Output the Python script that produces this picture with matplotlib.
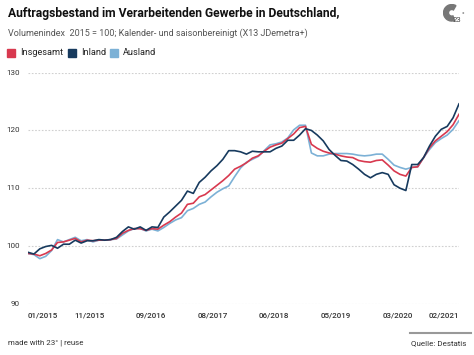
import numpy as np
import matplotlib
matplotlib.use("Agg")
import matplotlib.pyplot as plt
from matplotlib.transforms import blended_transform_factory
from matplotlib.patches import Rectangle, Wedge

plt.rcParams['font.family'] = ['Roboto', 'DejaVu Sans']

# monthly, 01/2015 .. 02/2021
insgesamt = [98.7, 98.6, 98.3, 98.7, 99.3, 100.6, 100.7, 101.0, 101.3, 100.7,
             101.0, 100.9, 101.0, 101.0, 101.1, 101.3, 102.2, 102.7, 103.0, 103.0,
             102.7, 103.0, 102.9, 103.6, 104.2, 105.0, 105.7, 107.2, 107.4, 108.5,
             108.9, 109.7, 110.5, 111.3, 112.2, 113.3, 113.8, 114.4, 115.2, 115.6,
             116.4, 117.1, 117.5, 117.8, 118.6, 119.4, 120.5, 120.7, 117.6, 116.9,
             116.4, 116.1, 115.9, 115.6, 115.4, 115.3, 114.8, 114.6, 114.5, 114.8,
             114.9, 114.0, 113.0, 112.4, 112.1, 113.6, 113.7, 115.3, 117.0, 118.2,
             119.0, 119.8, 121.0, 122.8]
inland = [98.9, 98.6, 99.5, 99.9, 100.1, 99.6, 100.3, 100.3, 101.0, 100.5,
          100.9, 100.9, 101.1, 101.0, 101.1, 101.5, 102.5, 103.3, 102.9, 103.3,
          102.7, 103.3, 103.2, 105.0, 105.9, 106.9, 107.9, 109.5, 109.1, 111.0,
          111.9, 113.0, 113.9, 115.0, 116.5, 116.5, 116.3, 115.9, 116.4, 116.3,
          116.3, 116.3, 116.9, 117.3, 118.3, 118.3, 119.2, 120.3, 120.0, 119.2,
          118.2, 116.7, 115.7, 114.8, 114.7, 114.1, 113.3, 112.4, 111.8, 112.4,
          112.7, 112.4, 110.6, 110.0, 109.6, 114.1, 114.1, 115.3, 117.3, 119.0,
          120.2, 120.7, 122.2, 124.6]
ausland = [98.7, 98.5, 97.8, 98.2, 99.2, 101.1, 100.7, 101.1, 101.5, 100.9,
           101.1, 100.7, 101.0, 101.0, 101.1, 101.2, 101.9, 102.6, 103.0, 103.0,
           102.6, 102.9, 102.6, 103.2, 103.9, 104.5, 104.9, 106.1, 106.5, 107.2,
           107.6, 108.5, 109.3, 109.9, 110.4, 112.0, 113.5, 114.5, 115.0, 115.5,
           116.5, 117.5, 117.7, 118.0, 118.7, 120.1, 120.9, 120.9, 116.1, 115.6,
           115.6, 115.9, 116.0, 116.0, 116.0, 115.9, 115.7, 115.6, 115.7, 115.9,
           115.9, 115.0, 114.0, 113.6, 113.3, 113.6, 113.7, 115.3, 116.7, 117.9,
           118.6, 119.2, 120.2, 121.7]

series_names = ['Insgesamt', 'Inland', 'Ausland']
colors = ['#d8394f', '#173a5e', '#7cb1d6']
x_labels = ['01/2015', '11/2015', '09/2016', '08/2017', '06/2018',
            '05/2019', '03/2020', '02/2021']
y_ticks = [90, 100, 110, 120, 130]

n = len(insgesamt)
x = np.arange(n)

fig = plt.figure(figsize=(4.74, 3.55), dpi=100)
ax = fig.add_axes([28 / 474, 1 - 303.7 / 355, 431 / 474, 231 / 355])

for vals, c in zip([ausland, insgesamt, inland], [colors[2], colors[0], colors[1]]):
    ax.plot(x, vals, color=c, lw=1.2, solid_joinstyle='round')

ax.set_xlim(0, n - 1)
ax.set_ylim(90, 130)
for s in ax.spines.values():
    s.set_visible(False)
ax.set_yticks(y_ticks)
ax.yaxis.grid(True, color='#d0d0d0', lw=0.8, ls=(0, (1.5, 1.5)))
ax.set_axisbelow(True)
ax.tick_params(length=0, labelleft=False, labelbottom=False)

# y labels, right aligned just left of the plot
tr = blended_transform_factory(fig.transFigure, ax.transData)
for v in y_ticks:
    ax.text(20 / 474, v, str(v), transform=tr, ha='right', va='center',
            fontsize=5.8, color='#333333')

# x labels, evenly spaced in time
xt = np.linspace(0, n - 1, len(x_labels))
ax.set_xticks(xt)
for i, (p, lab) in enumerate(zip(xt, x_labels)):
    ha = 'center'
    if i == 0:
        ha = 'left'
    elif i == len(x_labels) - 1:
        ha = 'right'
    ax.text(p, 87.9, lab, ha=ha, va='center', fontsize=5.8, color='#333333',
            fontweight='medium')

# title, subtitle
fig.text(8 / 474, 1 - 14 / 355, 'Auftragsbestand im Verarbeitenden Gewerbe in Deutschland,',
         fontsize=8.7, fontweight='bold', color='#111111', va='center', ha='left')
fig.text(8 / 474, 1 - 33 / 355,
         'Volumenindex  2015 = 100; Kalender- und saisonbereinigt (X13 JDemetra+)',
         fontsize=6.45, color='#555555', va='center', ha='left')

# legend
lx = [7, 68, 110]
for name, c, px in zip(series_names, colors, lx):
    fig.patches.append(Rectangle((px / 474, 1 - 57 / 355), 8 / 474, 8.5 / 355,
                                 transform=fig.transFigure, color=c))
    fig.text((px + 13) / 474, 1 - 52.5 / 355, name, fontsize=6.6, color='#222222',
             va='center', ha='left')

# footer
fig.text(8 / 474, 1 - 343 / 355, 'made with 23\u00b0 | reuse', fontsize=5.7,
         color='#333333', va='center', ha='left')
fig.text(466 / 474, 1 - 343 / 355, 'Quelle: Destatis', fontsize=5.8,
         color='#333333', va='center', ha='right')
fig.lines.append(plt.Line2D([410 / 474, 471 / 474], [1 - 333 / 355, 1 - 333 / 355],
                            transform=fig.transFigure, color='#999999', lw=1.5))

# logo
lax = fig.add_axes([443 / 474, 1 - 26 / 355, 22 / 474, 22 / 355])
lax.set_xlim(-1, 1)
lax.set_ylim(-1, 1)
lax.set_aspect('equal')
lax.axis('off')
lax.add_patch(Wedge((-0.2, 0.2), 0.75, 60, 290, width=0.45, color='#777777'))
lax.text(0.3, -0.45, '23', fontsize=5.5, color='#444444', ha='center', va='center')
lax.text(0.8, -0.1, '\u00b0', fontsize=5, color='#444444', ha='center', va='center')

fig.savefig('out.png', dpi=100, facecolor='white')
